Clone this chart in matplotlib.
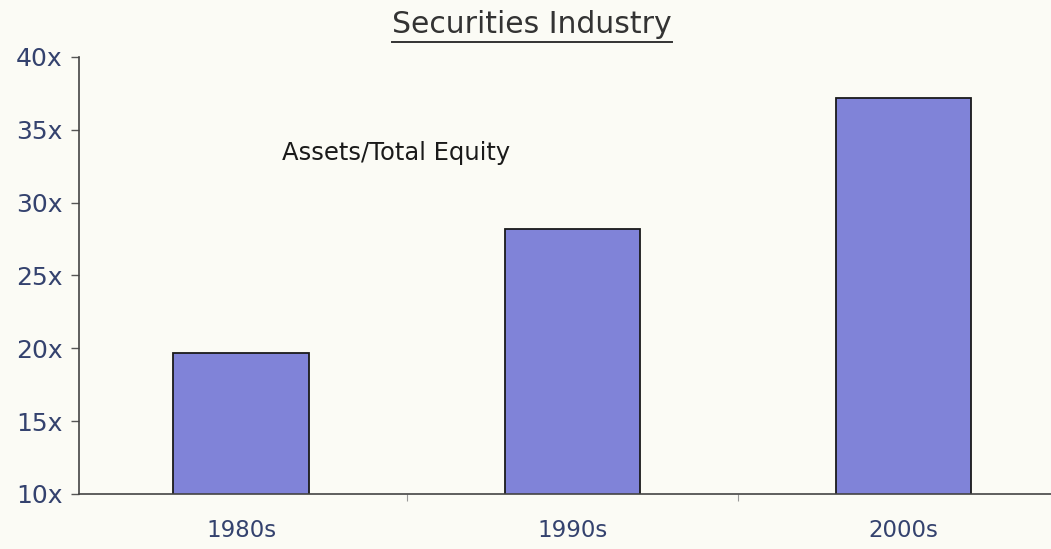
import matplotlib.pyplot as plt
from matplotlib.lines import Line2D
from matplotlib.ticker import FixedLocator, FuncFormatter

# data
decades = ["1980s", "1990s", "2000s"]
leverage = [19.7, 28.2, 37.2]
yticks = [10, 15, 20, 25, 30, 35, 40]

bg = "#fbfbf5"
barColor = "#8083d8"
labelColor = "#34426e"

fig = plt.figure(figsize=(10.51, 5.49), dpi=100, facecolor=bg)
ax = fig.add_axes([0.0752, 0.1002, 0.93, 0.796])
ax.set_facecolor(bg)

x = list(range(len(decades)))
ax.bar(x, leverage, width=0.41, bottom=0, color=barColor,
       edgecolor="#1a1a1a", linewidth=1.3, zorder=2)

ax.set_ylim(10, 40)
ax.set_xlim(-0.49, 2.462)
ax.set_yticks(yticks)
ax.yaxis.set_major_formatter(FuncFormatter(lambda v, p: "%dx" % v))
ax.set_xticks(x)
ax.set_xticklabels(decades)
ax.xaxis.set_minor_locator(FixedLocator([0.5, 1.5]))

ax.tick_params(axis="y", direction="out", length=6, width=1, color="#555555",
               labelsize=18, labelcolor=labelColor, pad=6)
ax.tick_params(axis="x", which="major", length=0, labelsize=16.5,
               labelcolor=labelColor, pad=18)
ax.tick_params(axis="x", which="minor", direction="out", length=5,
               width=0.8, color="#999999")

for side in ["top", "right"]:
    ax.spines[side].set_visible(False)
ax.spines["left"].set_color("#444444")
ax.spines["bottom"].set_color("#444444")
ax.spines["left"].set_linewidth(1.2)
ax.spines["bottom"].set_linewidth(1.2)

ax.text(0.208, 0.78, "Assets/Total Equity", transform=ax.transAxes,
        fontsize=17.5, color="#1a1a1a", ha="left", va="center")

title = fig.text(0.506, 0.955, "Securities Industry", fontsize=21.5,
                 color="#333333", ha="center", va="center")

# underline the title
fig.canvas.draw()
bb = title.get_window_extent().transformed(fig.transFigure.inverted())
fig.add_artist(Line2D([bb.x0, bb.x1], [bb.y0 - 0.005, bb.y0 - 0.005],
                      transform=fig.transFigure, color="#333333", linewidth=1.4))

fig.savefig("out.png", dpi=100, facecolor=bg)
